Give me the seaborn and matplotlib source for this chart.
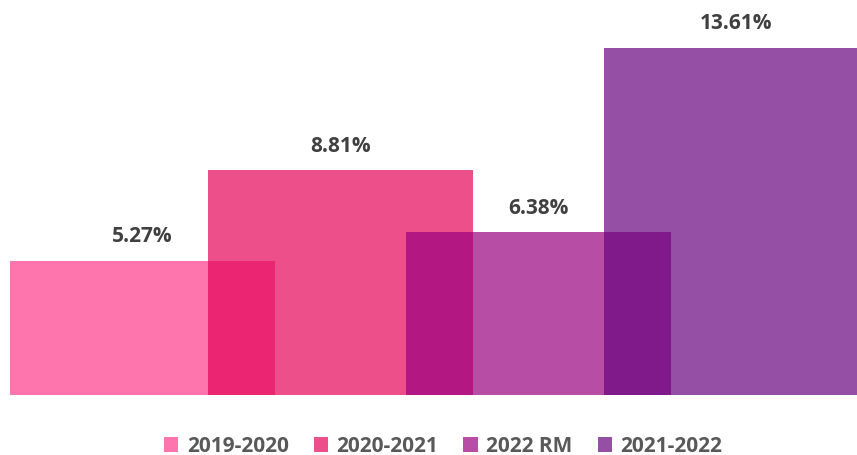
import matplotlib
matplotlib.use("Agg")
import matplotlib.pyplot as plt
from matplotlib.patches import Patch
import seaborn as sns
import pandas as pd

# data
periods = ["2019-2020", "2020-2021", "2022 RM", "2021-2022"]
growth = [5.27, 8.81, 6.38, 13.61]
colors = ["#FE3A8A", "#E40459", "#9B0180", "#69047E"]
alpha = 0.7

df = pd.DataFrame({"period": periods, "growth": growth})

sns.set_theme(style="white")
plt.rcParams['font.family'] = ['Open Sans', 'DejaVu Sans']

fig = plt.figure(figsize=(8.57, 4.55), dpi=100)
ax = fig.add_axes([0, 60 / 455, 1, 395 / 455])

sns.barplot(data=df, x="period", y="growth", hue="period", palette=colors,
            dodge=False, width=1.338, alpha=alpha, saturation=1, legend=False,
            ax=ax, edgecolor="none", linewidth=0)

ax.set_xlim(-0.72, 3.609)
ax.set_ylim(0, 15.49)
ax.set_xlabel("")
ax.set_ylabel("")
ax.set_xticks([])
ax.set_yticks([])
for s in ax.spines.values():
    s.set_visible(False)

for i, v in enumerate(growth):
    ax.annotate(f"{v:.2f}%", (i, v), xytext=(0, 17.5), textcoords="offset points",
                ha="center", va="center", fontsize=15, fontweight="bold",
                color="#404040")

handles = [Patch(facecolor=c, alpha=alpha, edgecolor="none") for c in colors]
fig.legend(handles, periods, loc="center", bbox_to_anchor=(0.517, 9 / 455),
           ncol=4, frameon=False, handlelength=0.7, handleheight=0.7,
           handletextpad=0.4, columnspacing=1.2,
           prop={"size": 15, "weight": "bold"}, labelcolor="#595959")

fig.savefig("out.png", dpi=100)
